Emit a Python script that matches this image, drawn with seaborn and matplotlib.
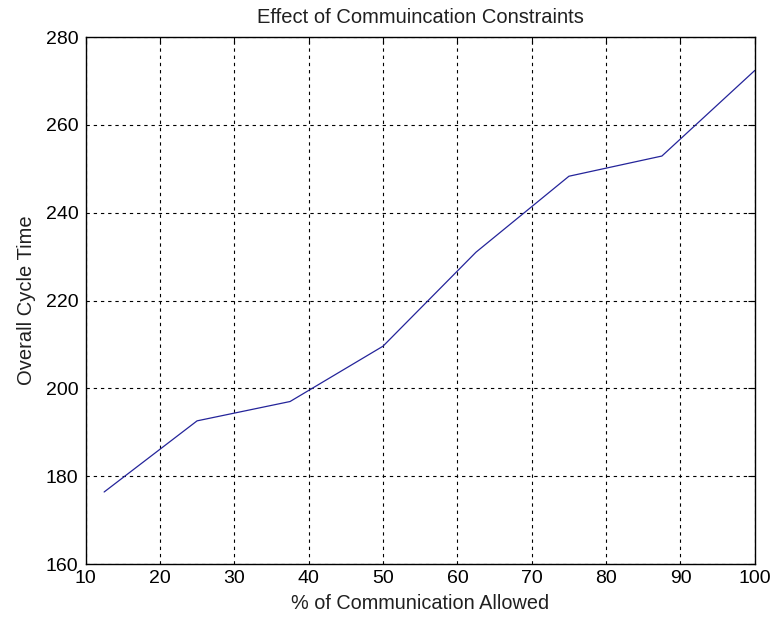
import pandas as pd
import matplotlib
matplotlib.use("Agg")
import matplotlib.pyplot as plt
import seaborn as sns

# values
comm_allowed = [12.5, 25, 37.5, 50, 62.5, 75, 87.5, 100]
cycle_time = [176.4, 192.6, 197.0, 209.6, 231.0, 248.3, 252.9, 272.4]
x_ticks = [10, 20, 30, 40, 50, 60, 70, 80, 90, 100]
y_ticks = [160, 180, 200, 220, 240, 260, 280]

data = pd.DataFrame({"comm": comm_allowed, "cycle": cycle_time})

sns.set_style("white")
plt.rcParams['font.family'] = ['Liberation Sans', 'DejaVu Sans']

fig = plt.figure(figsize=(7.72, 6.2), dpi=100)
ax = fig.add_axes([0.1108, 0.0903, 0.867, 0.850])

sns.lineplot(x="comm", y="cycle", data=data, color="#24249a", linewidth=0.9, ax=ax)

ax.set_xlim(10, 100)
ax.set_ylim(160, 280)
ax.set_xticks(x_ticks)
ax.set_yticks(y_ticks)
ax.grid(True, color="black", linestyle=(0, (3, 3.5)), linewidth=0.8)
ax.set_axisbelow(True)

for s in ax.spines.values():
    s.set_visible(True)
    s.set_color("black")
    s.set_linewidth(1.0)

ax.tick_params(direction="in", length=5, width=0.8, top=True, right=True,
               labelsize=14, colors="black")
ax.tick_params(axis="y", pad=5)
ax.tick_params(axis="x", pad=4)

ax.set_title("Effect of Commuincation Constraints", fontsize=14.5, pad=10, color="#202020")
ax.set_xlabel("% of Communication Allowed", fontsize=14.3, labelpad=5, color="#202020")
ax.set_ylabel("Overall Cycle Time", fontsize=14.5, labelpad=7, color="#202020")

fig.savefig("out.png", dpi=100, facecolor="white")
